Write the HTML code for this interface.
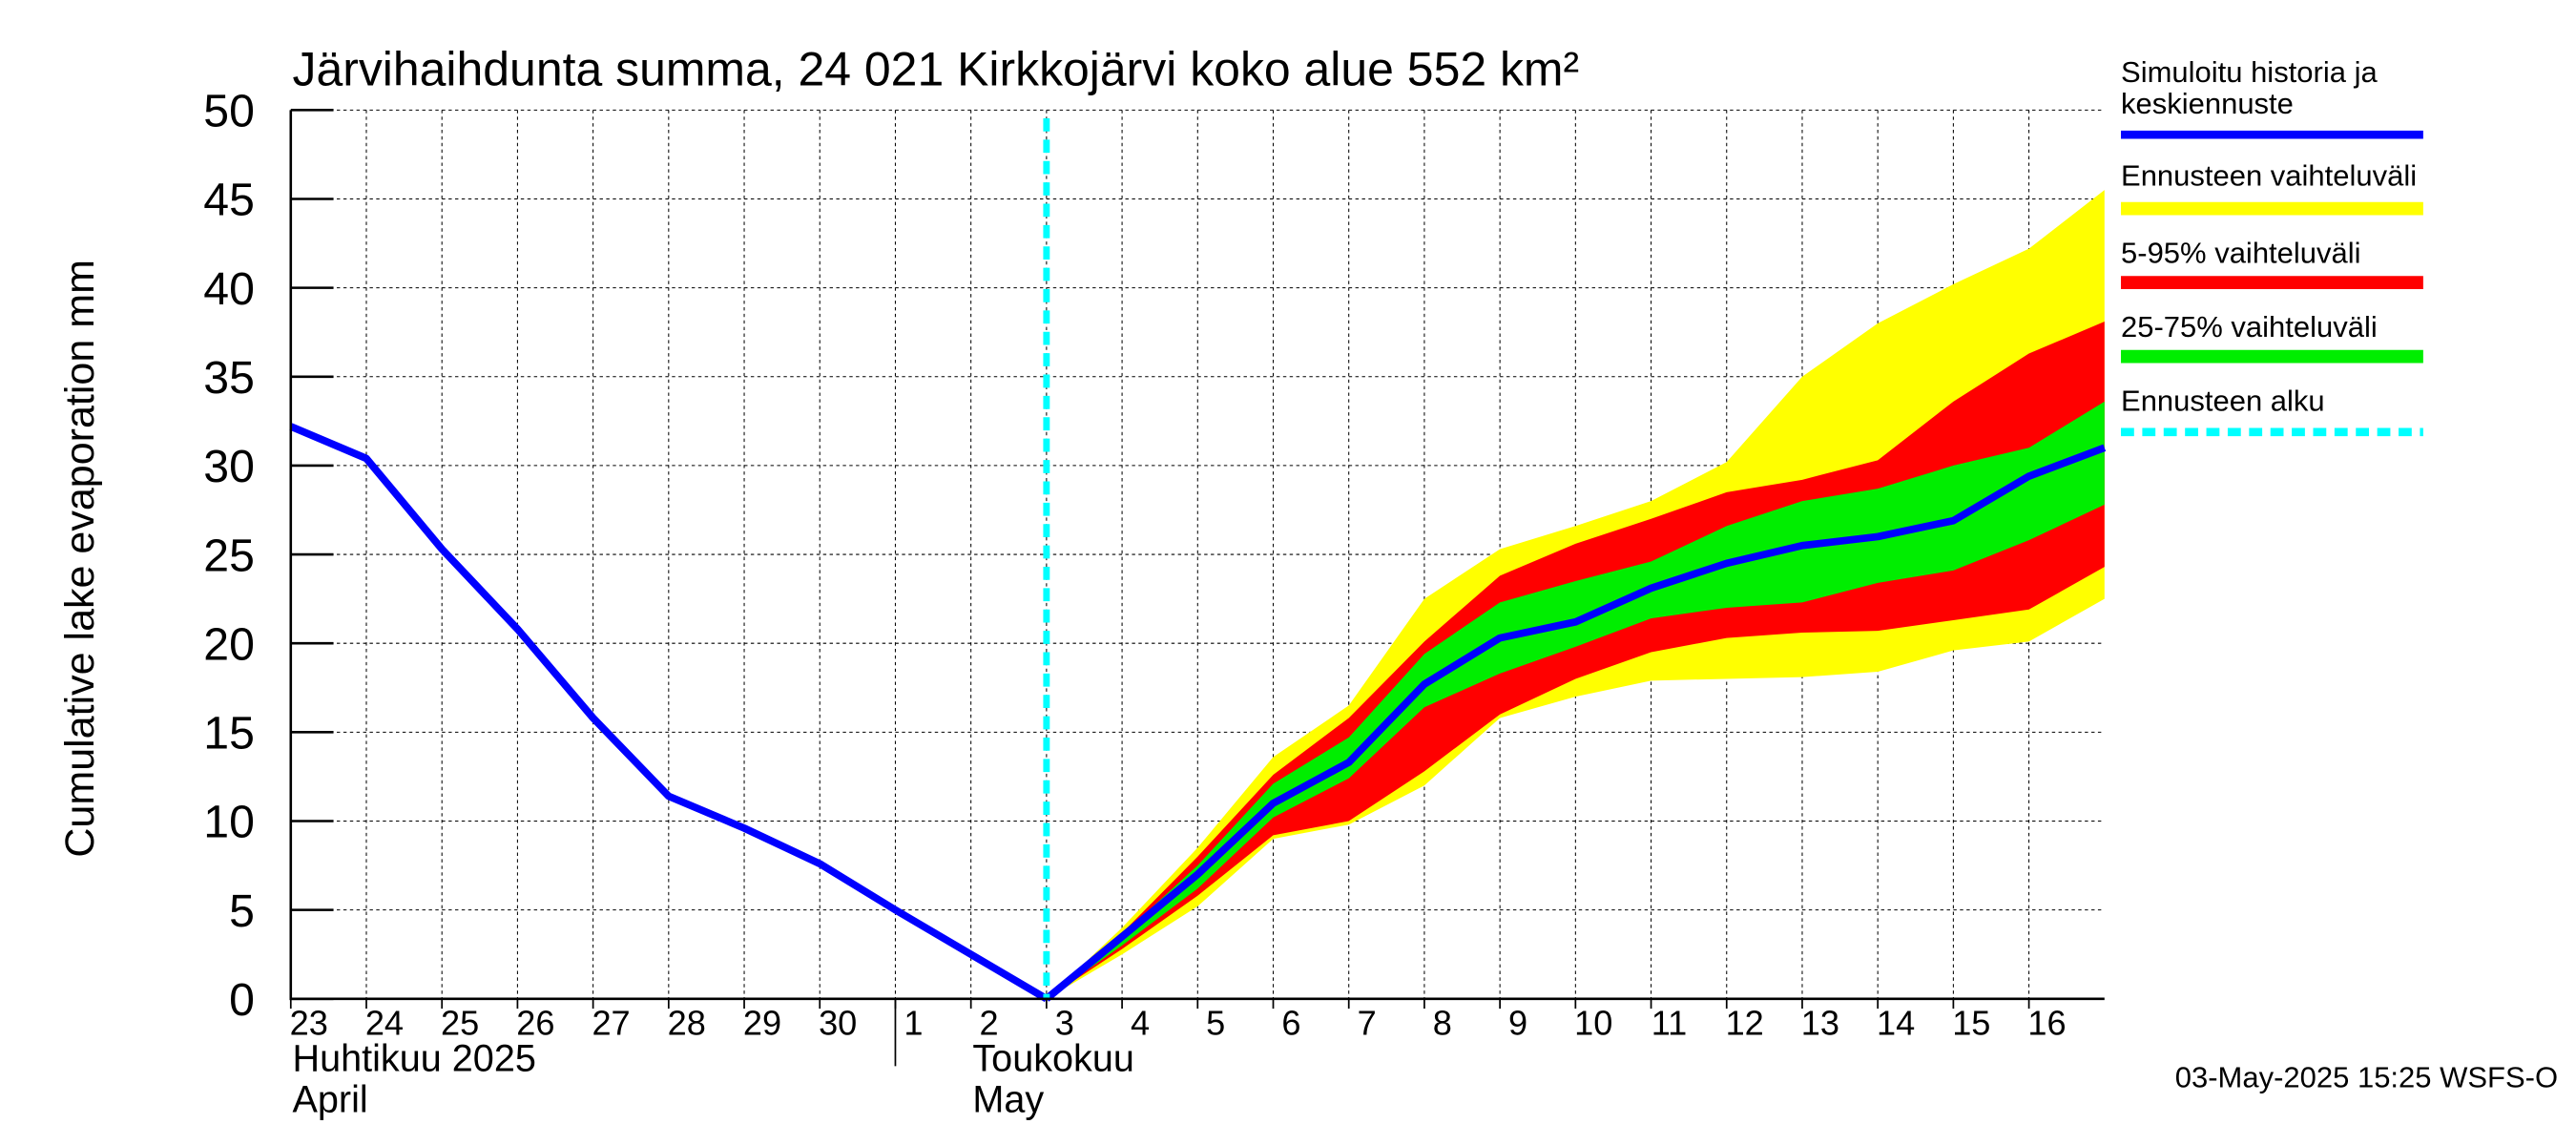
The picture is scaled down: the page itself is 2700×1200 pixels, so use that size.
<!DOCTYPE html>
<html><head><meta charset="utf-8"><style>
html,body{margin:0;padding:0;background:#fff;}
svg{display:block;font-family:"Liberation Sans Narrow","Liberation Sans",sans-serif;}
</style></head><body>
<svg id="chart" width="2700" height="1200" viewBox="0 0 1568 697" preserveAspectRatio="none" xmlns="http://www.w3.org/2000/svg">
<rect width="1568" height="697" fill="#fff"/>
<text x="178" y="52" font-size="29">Järvihaihdunta summa, 24 021 Kirkkojärvi koko alue 552 km²</text>
<text transform="translate(57,340) rotate(-90)" text-anchor="middle" font-size="25">Cumulative lake evaporation   mm</text>
<g id="grid"></g>
<g id="bands"></g>
<g id="lines"></g>
<g id="axes"></g>
<g id="legend">
<text x="1291" y="50" font-size="18">Simuloitu historia ja</text>
<text x="1291" y="69" font-size="18">keskiennuste</text>
<line x1="1291" y1="82" x2="1475" y2="82" stroke="#0000ff" stroke-width="5"/>
<text x="1291" y="113" font-size="18">Ennusteen vaihteluväli</text>
<line x1="1291" y1="127" x2="1475" y2="127" stroke="#ffff00" stroke-width="8"/>
<text x="1291" y="160" font-size="18">5-95% vaihteluväli</text>
<line x1="1291" y1="172" x2="1475" y2="172" stroke="#ff0000" stroke-width="8"/>
<text x="1291" y="205" font-size="18">25-75% vaihteluväli</text>
<line x1="1291" y1="217" x2="1475" y2="217" stroke="#00ee00" stroke-width="8"/>
<text x="1291" y="250" font-size="18">Ennusteen alku</text>
<line x1="1291" y1="263" x2="1475" y2="263" stroke="#00ffff" stroke-width="5" stroke-dasharray="8,5"/>
</g>
<text x="178" y="652" font-size="23">Huhtikuu  2025</text>
<text x="178" y="677" font-size="23">April</text>
<text x="592" y="652" font-size="23">Toukokuu</text>
<text x="592" y="677" font-size="23">May</text>
<line x1="545" y1="608" x2="545" y2="649" stroke="#000" stroke-width="1"/>
<text x="1557" y="662" text-anchor="end" font-size="18">03-May-2025 15:25 WSFS-O</text>
</svg>
<script>
const dayLabels=["23","24","25","26","27","28","29","30","1","2","3","4","5","6","7","8","9","10","11","12","13","14","15","16"];
const yTicks=[0,5,10,15,20,25,30,35,40,45,50];
const histDays=[0,1,2,3,4,5,6,7,8,9,10];
const histValues=[32.2,30.4,25.3,20.8,15.8,11.4,9.6,7.6,5.0,2.5,0];
const fcDays=[10,11,12,13,14,15,16,17,18,19,20,21,22,23,24];
const median=[0,3.5,7,11,13.3,17.7,20.3,21.2,23.1,24.5,25.5,26,26.9,29.4,31];
const rangeMax=[0,4,8.5,13.6,16.5,22.5,25.3,26.6,28,30.2,35,38,40.2,42.2,45.5];
const rangeMin=[0,2.5,5.2,9.0,9.8,12.0,15.8,17.0,17.9,18.0,18.1,18.4,19.6,20.1,22.5];
const p95=[0,3.7,8,12.6,15.8,20.1,23.8,25.6,27,28.5,29.2,30.3,33.6,36.3,38.1];
const p5=[0,2.8,5.8,9.2,10.0,12.8,16.0,18.0,19.5,20.3,20.6,20.7,21.3,21.9,24.3];
const p75=[0,3.6,7.5,12.1,14.7,19.4,22.3,23.5,24.6,26.6,28.0,28.7,30.0,31.0,33.6];
const p25=[0,3.0,6.2,10.2,12.4,16.4,18.3,19.8,21.4,22.0,22.3,23.4,24.1,25.8,27.8];
const forecastStartDay=10;

const L=177,R=1281,T=67,B=608,NX=24,YMAX=50;
const xs=d=>L+(R-L)*d/NX;
const ys=v=>B-(B-T)*v/YMAX;
const NS="http://www.w3.org/2000/svg";
function mk(tag,attrs,parent){const e=document.createElementNS(NS,tag);for(const k in attrs)e.setAttribute(k,attrs[k]);parent.appendChild(e);return e;}
const grid=document.getElementById('grid'),bands=document.getElementById('bands'),lines=document.getElementById('lines'),axes=document.getElementById('axes');

yTicks.forEach(v=>{
  if(v>0){const g=mk('line',{x1:L,x2:R,y1:ys(v),y2:ys(v),stroke:'#000','stroke-width':0.6,'stroke-dasharray':'2,2'},grid);
  
  }
  const t=mk('line',{x1:L,x2:L+26,y1:ys(v),y2:ys(v),stroke:'#000','stroke-width':1.5},axes);
  
  
  const lb=mk('text',{x:L-22,y:ys(v)+10,'text-anchor':'end','font-size':28},axes);
  lb.textContent=v;
  
  
});
dayLabels.forEach((d,i)=>{
  if(i>0){const g=mk('line',{x1:xs(i),x2:xs(i),y1:T,y2:B,stroke:'#000','stroke-width':0.6,'stroke-dasharray':'2,2'},grid);
  
  }
  const t=mk('line',{x1:xs(i),x2:xs(i),y1:B,y2:B+6,stroke:'#000','stroke-width':1},axes);
  
  
  const lb=mk('text',{x:xs(i)+11,y:630,'text-anchor':'middle','font-size':21},axes);
  lb.textContent=d;
  
  
});
function band(hi,lo,color,name){
  let pts=fcDays.map((d,i)=>xs(d)+','+ys(hi[i]));
  pts=pts.concat(fcDays.map((d,i)=>xs(d)+','+ys(lo[i])).reverse());
  const p=mk('polygon',{points:pts.join(' '),fill:color},bands);
  
  
}
band(rangeMax,rangeMin,'#ffff00','band-forecast-range');
band(p95,p5,'#ff0000','band-5-95');
band(p75,p25,'#00ee00','band-25-75');
const h=mk('polyline',{points:histDays.map((d,i)=>xs(d)+','+ys(histValues[i])).join(' '),fill:'none',stroke:'#0000ff','stroke-width':4.5,'stroke-linejoin':'round'},lines);


const m=mk('polyline',{points:fcDays.map((d,i)=>xs(d)+','+ys(median[i])).join(' '),fill:'none',stroke:'#0000ff','stroke-width':4.5,'stroke-linejoin':'round'},lines);


const fs=mk('line',{x1:xs(forecastStartDay),x2:xs(forecastStartDay),y1:T+5,y2:B,stroke:'#00ffff','stroke-width':4,'stroke-dasharray':'8,5'},lines);


const ax=mk('polyline',{points:`${L},${T} ${L},${B} ${R},${B}`,fill:'none',stroke:'#000','stroke-width':1.5},axes);


</script>
</body></html>
